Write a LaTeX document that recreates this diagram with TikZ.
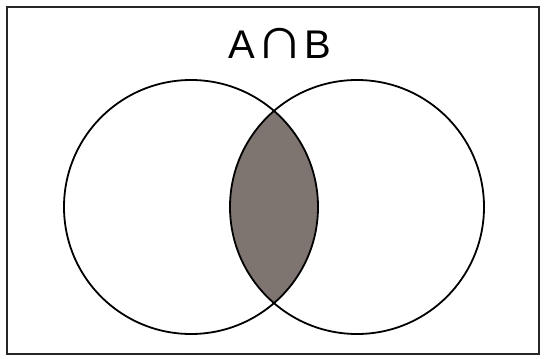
\documentclass[tikz,border=0pt]{standalone}
\usepackage{fontspec}
\setmainfont{Liberation Sans}
\definecolor{lensgray}{RGB}{126,116,112}
\begin{document}
\begin{tikzpicture}[x=1pt,y=-1pt]
    % Parameters
    \def\radius{127} % Radius of each circle
    \def\cy{207} % Vertical position of the centres
    \def\cxA{191} % Centre of set A
    \def\cxB{357} % Centre of set B

    \useasboundingbox (0,0) rectangle (545,358);

    % Draw the universe
    \draw[line width=2.2pt, black!85] (7,7) rectangle (539,354);

    % Shade the intersection
    \begin{scope}
        \clip (\cxA,\cy) circle (\radius);
        \fill[lensgray] (\cxB,\cy) circle (\radius);
    \end{scope}

    % Draw the two sets
    \draw[line width=1.8pt] (\cxA,\cy) circle (\radius);
    \draw[line width=1.8pt] (\cxB,\cy) circle (\radius);

    % Add the label
    \node[font=\fontsize{40}{40}\selectfont] (title) at (280,43)
        {A\scalebox{1.7}[1.5]{∩}B};
\end{tikzpicture}
\end{document}
